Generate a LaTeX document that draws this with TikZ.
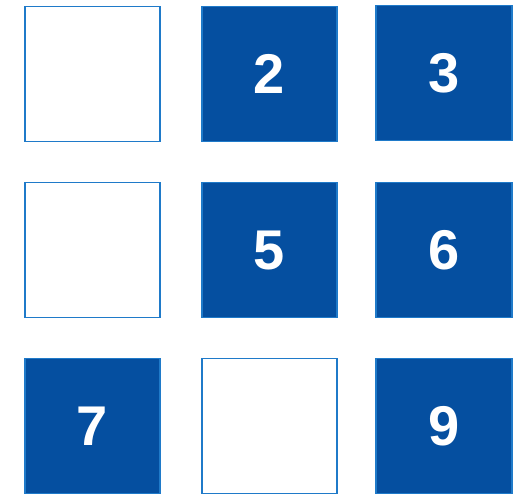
\documentclass[tikz,border=0pt]{standalone}
\usepackage{fontspec}
\setmainfont{Liberation Sans}
\definecolor{boxfill}{HTML}{054FA0}
\definecolor{boxline}{HTML}{1F7AC9}
\begin{document}
\begin{tikzpicture}[x=1pt,y=-1pt,
  cell/.style={draw=boxline, line width=1.5pt, minimum width=135pt, minimum height=135pt, inner sep=0pt, anchor=north west},
  full/.style={cell, fill=boxfill, text=white, font=\fontsize{56}{56}\selectfont\bfseries},
  empty/.style={cell, fill=white}]
\useasboundingbox (0,0) rectangle (515,494);
\node[empty] (c1) at (24,6) {};
\node[full] (c2) at (201,6) {2};
\node[full, minimum width=136pt] (c3) at (375,5) {3};
\node[empty] (c4) at (24,182) {};
\node[full] (c5) at (201,182) {5};
\node[full, minimum width=136pt] (c6) at (375,182) {6};
\node[full] (c7) at (24,358) {7};
\node[empty] (c8) at (201,358) {};
\node[full, minimum width=136pt] (c9) at (375,358) {9};
\end{tikzpicture}
\end{document}
